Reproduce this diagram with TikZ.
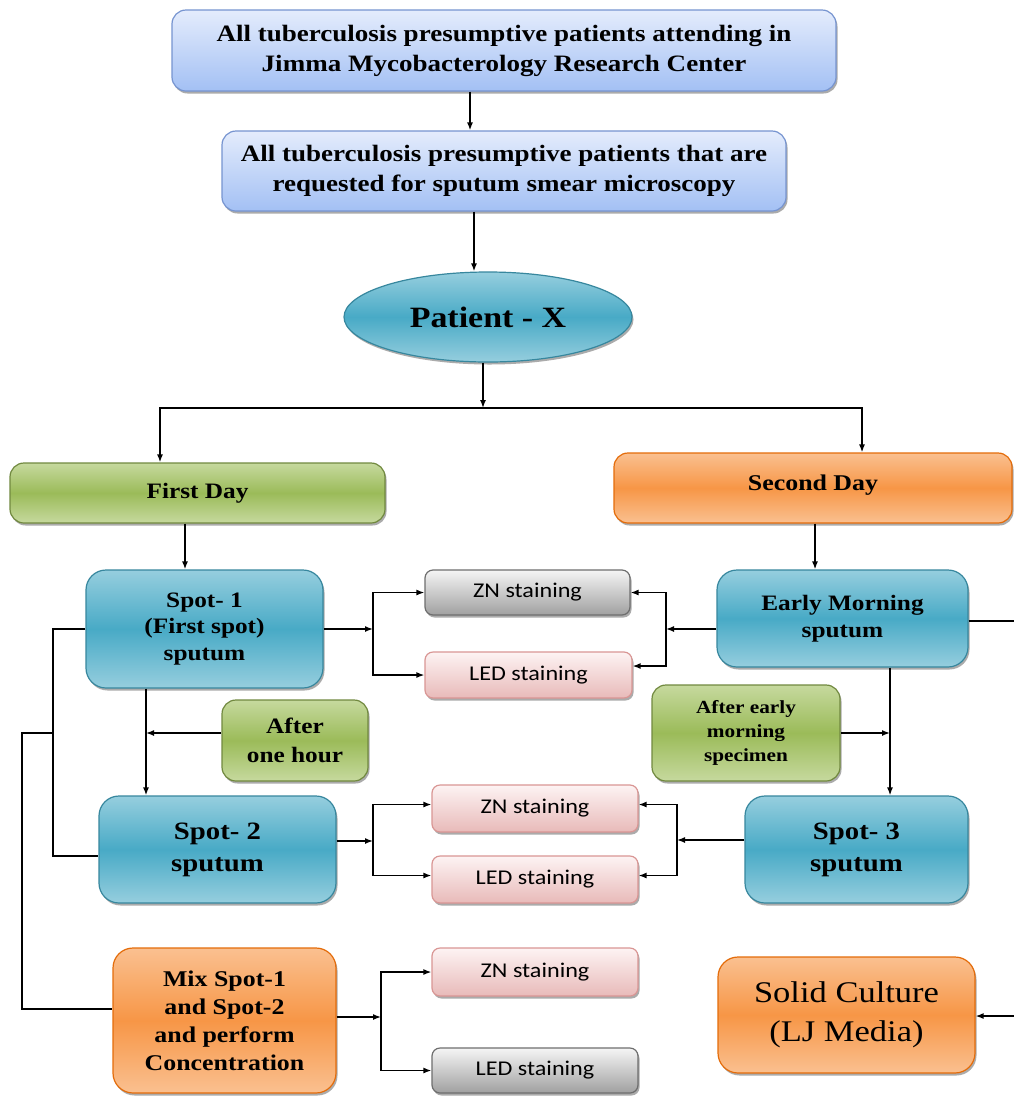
\documentclass[tikz,border=0pt]{standalone}
\usepackage{fontspec}
\setmainfont{Liberation Serif}[FakeStretch=1.15]
\newfontfamily\carlito{Carlito}[FakeStretch=1.15]
\usetikzlibrary{arrows.meta,shapes.geometric,shadows}
\definecolor{bluT}{RGB}{228,236,252}
\definecolor{bluB}{RGB}{163,192,244}
\definecolor{bluE}{RGB}{118,148,208}
\definecolor{tealL}{RGB}{150,206,222}
\definecolor{tealM}{RGB}{72,170,198}
\definecolor{tealE}{RGB}{55,135,158}
\definecolor{grnL}{RGB}{198,217,158}
\definecolor{grnM}{RGB}{155,187,89}
\definecolor{grnE}{RGB}{113,137,63}
\definecolor{orgL}{RGB}{250,192,144}
\definecolor{orgM}{RGB}{247,150,70}
\definecolor{orgE}{RGB}{228,108,10}
\definecolor{pnkT}{RGB}{253,243,243}
\definecolor{pnkB}{RGB}{232,186,185}
\definecolor{pnkE}{RGB}{217,150,148}
\definecolor{gryT}{RGB}{245,245,245}
\definecolor{gryB}{RGB}{160,160,160}
\definecolor{gryE}{RGB}{110,110,110}
\tikzset{
  basebox/.style={draw, line width=1.2pt, align=center, inner sep=0pt,
    drop shadow={shadow xshift=1.5pt, shadow yshift=-2.5pt, opacity=0.5, fill=black!65}},
  blubox/.style={basebox, rounded corners=14pt, top color=bluT, bottom color=bluB, draw=bluE,
    font=\bfseries\fontsize{23.5}{30}\selectfont},
  tealbox/.style={basebox, rounded corners=20pt, top color=tealL, bottom color=tealL, middle color=tealM, draw=tealE,
    font=\bfseries\fontsize{22}{26.5}\selectfont},
  grnbox/.style={basebox, rounded corners=14pt, top color=grnL, bottom color=grnL, middle color=grnM, draw=grnE,
    font=\bfseries\fontsize{22}{29}\selectfont},
  orgbox/.style={basebox, rounded corners=20pt, top color=orgL, bottom color=orgL, middle color=orgM, draw=orgE,
    font=\bfseries\fontsize{22.5}{28}\selectfont},
  pnkbox/.style={basebox, rounded corners=8pt, top color=pnkT, bottom color=pnkB, draw=pnkE,
    font=\carlito\fontsize{21}{24}\selectfont},
  grybox/.style={basebox, rounded corners=8pt, top color=gryT, bottom color=gryB, draw=gryE,
    font=\carlito\fontsize{21}{24}\selectfont},
  wire/.style={line width=1.4pt, black},
  arr/.style={wire, -{Latex[length=8pt,width=6pt]}},
}
\begin{document}
\begin{tikzpicture}[x=1pt,y=-1pt]
\useasboundingbox (0,0) rectangle (1014,1096);
\clip (0,0) rectangle (1014,1096);
\fill[white] (0,0) rectangle (1014,1096);

% nodes
\node[blubox, minimum width=664, minimum height=81] (top) at (504,50.5)
  {All tuberculosis presumptive patients attending in\\Jimma Mycobacterology Research Center};
\node[blubox, minimum width=564, minimum height=80] (req) at (504,171)
  {All tuberculosis presumptive patients that are\\requested for sputum smear microscopy};
\node[ellipse, basebox, top color=tealL, bottom color=tealL, middle color=tealM, draw=tealE,
  minimum width=288, minimum height=90, font=\bfseries\fontsize{29.5}{32}\selectfont] (pat) at (488,317) {Patient - X};
\node[grnbox, minimum width=375, minimum height=60] (fd) at (197.5,493) {First Day};
\node[orgbox, rounded corners=14pt, minimum width=398, minimum height=70] (sd) at (813,488) {\raisebox{10pt}{Second Day}};
\node[tealbox, minimum width=237, minimum height=118] (s1) at (204.5,629) {Spot- 1\\(First spot)\\sputum};
\node[tealbox, minimum width=251, minimum height=97] (em) at (842.5,618.5) {Early Morning\\sputum};
\node[grybox, minimum width=205, minimum height=45] (zn1) at (527.5,592.5) {ZN staining};
\node[pnkbox, minimum width=207, minimum height=46] (led1) at (528.5,675) {LED staining};
\node[grnbox, minimum width=146, minimum height=81] (h1) at (295,740.5) {After\\one hour};
\node[grnbox, minimum width=188, minimum height=96, font=\bfseries\fontsize{18.5}{24}\selectfont] (h2) at (746,733)
  {After early\\morning\\specimen};
\node[tealbox, minimum width=237, minimum height=107, font=\bfseries\fontsize{25}{32}\selectfont] (s2) at (217.5,849.5) {Spot- 2\\sputum};
\node[tealbox, minimum width=223, minimum height=107, font=\bfseries\fontsize{25}{32}\selectfont] (s3) at (856.5,849.5) {Spot- 3\\sputum};
\node[pnkbox, minimum width=206, minimum height=47] (zn2) at (535,808.5) {ZN staining};
\node[pnkbox, minimum width=206, minimum height=47] (led2) at (535,879.5) {LED staining};
\node[orgbox, minimum width=223, minimum height=145] (mix) at (224.5,1020.5)
  {Mix Spot-1\\and Spot-2\\and perform\\Concentration};
\node[pnkbox, minimum width=206, minimum height=48] (zn3) at (535,972) {ZN staining};
\node[grybox, minimum width=206, minimum height=45] (led3) at (535,1070.5) {LED staining};
\node[orgbox, minimum width=257, minimum height=116, font=\mdseries\fontsize{30}{39}\selectfont] (solid) at (846.5,1015)
  {Solid Culture\\(LJ Media)};

% junction coordinates
\coordinate (sp) at (483,408);
\coordinate (j1) at (373,629);
\coordinate (j2) at (666,629);
\coordinate (v1) at (146,733);
\coordinate (v2) at (890,733);
\coordinate (j3) at (373,841);
\coordinate (j4) at (677,840);
\coordinate (j5) at (381,1017);
\coordinate (L1) at (53,629);
\coordinate (L2) at (53,733);
\coordinate (L3) at (22,733);
\coordinate (R1) at (1040,621);
\coordinate (R2) at (1040,1016);

% connectors
\draw[arr] ([xshift=-34pt]top.south) -- ([xshift=-34pt]top.south |- req.north);
\draw[arr] ([xshift=-30pt]req.south) -- ([xshift=-30pt]req.south |- pat.north);
\draw[arr] (pat.south -| sp) -- (sp);
\draw[arr] (sp) -| ([xshift=-37.5pt]fd.north);
\draw[arr] (sp) -| ([xshift=49pt]sd.north);
\draw[arr] ([xshift=-12.5pt]fd.south) -- ([xshift=-12.5pt]fd.south |- s1.north);
\draw[arr] ([xshift=2pt]sd.south) -- ([xshift=2pt]sd.south |- em.north);

\draw[arr] (s1.east) -- (j1);
\draw[arr] (j1) |- (zn1.west);
\draw[arr] (j1) |- (led1.west);
\draw[arr] (em.west |- j2) -- (j2);
\draw[arr] (j2) |- (zn1.east);
\draw[arr] (j2) |- ([yshift=9pt]led1.east);

\draw[arr] (s1.south -| v1) -- (s2.north -| v1);
\draw[arr] ([yshift=7.5pt]h1.west) -- (v1);
\draw[arr] (em.south -| v2) -- (s3.north -| v2);
\draw[arr] (h2.east) -- (v2);

\draw[arr] ([yshift=8.5pt]s2.east) -- (j3);
\draw[arr] (j3) |- ([yshift=4pt]zn2.west);
\draw[arr] (j3) |- ([yshift=4pt]led2.west);
\draw[arr] ([yshift=9.5pt]s3.west) -- (j4);
\draw[arr] (j4) |- ([yshift=4pt]zn2.east);
\draw[arr] (j4) |- ([yshift=4pt]led2.east);

\draw[arr] ([yshift=3.5pt]mix.east) -- (j5);
\draw[arr] (j5) |- (zn3.west);
\draw[arr] (j5) |- (led3.west);

\draw[wire] (s1.west) -- (L1) |- ([yshift=-6.5pt]s2.west);
\draw[wire] (L2) -- (L3) |- ([yshift=11.5pt]mix.west);
\draw[arr] (em.east |- R1) -- (R1) -- (R2) -- (solid.east |- R2);
\end{tikzpicture}
\end{document}
